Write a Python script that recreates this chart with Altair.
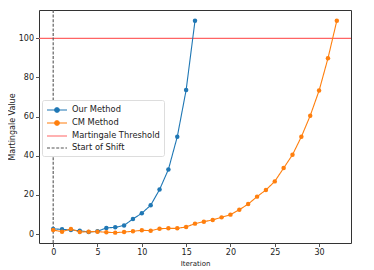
import altair as alt
import pandas as pd

our_values = [2.6, 2.4, 2.0, 1.7, 1.0, 1.4, 3.1, 3.4, 4.4, 7.7, 10.6, 14.7, 22.7, 33.0, 49.7, 73.6, 109.0]
cm_values = [2.0, 1.2, 2.6, 1.0, 1.2, 1.2, 0.9, 0.7, 1.0, 1.4, 1.9, 1.7, 2.7, 2.9, 2.9, 3.6, 5.3,
             6.3, 7.2, 8.5, 9.9, 12.4, 15.3, 19.1, 22.5, 26.9, 33.7, 40.5, 49.7, 60.5, 73.3, 89.8, 109.0]
threshold = 100
shift_start = 0
series_names = ["Our Method", "CM Method", "Martingale Threshold", "Start of Shift"]
colors = ["#1f77b4", "#ff7f0e", "#ff6464", "#555555"]

rows = []
for i, v in enumerate(our_values):
    rows.append({"Iteration": i, "Value": v, "series": series_names[0]})
for i, v in enumerate(cm_values):
    rows.append({"Iteration": i, "Value": v, "series": series_names[1]})
df = pd.DataFrame(rows)
df_thr = pd.DataFrame({"Value": [threshold], "series": [series_names[2]]})
df_shift = pd.DataFrame({"Iteration": [shift_start], "series": [series_names[3]]})

circ = "M-2,0H2M0.46,0A0.46,0.46,0,1,1,-0.46,0A0.46,0.46,0,1,1,0.46,0Z"
line_path = "M-2,0H2"

color_scale = alt.Scale(domain=series_names, range=colors)
dash_scale = alt.Scale(domain=series_names, range=[[1, 0], [1, 0], [1, 0], [3, 1.6]])
shape_scale = alt.Scale(domain=series_names, range=[circ, circ, line_path, line_path])

legend = alt.Legend(title=None, orient="none", legendX=3, legendY=90, fillColor="white",
                    strokeColor="#dddddd", padding=4, cornerRadius=2, labelFontSize=8.3,
                    labelFont="DejaVu Sans", symbolSize=100, rowPadding=2, symbolStrokeWidth=1.1,
                    symbolOffset=5, labelOffset=9, labelColor="#222222")

x_enc = alt.X("Iteration:Q", scale=alt.Scale(domain=[-1.6, 33.6], nice=False, zero=False),
              axis=alt.Axis(values=[0, 5, 10, 15, 20, 25, 30], title="Iteration", grid=False,
                            format="d"))
y_enc = alt.Y("Value:Q", scale=alt.Scale(domain=[-4.6, 114.5], nice=False, zero=False),
              axis=alt.Axis(values=[0, 20, 40, 60, 80, 100], title="Martingale Value", grid=False,
                            titlePadding=2))
col = alt.Color("series:N", scale=color_scale, legend=legend)
dash = alt.StrokeDash("series:N", scale=dash_scale, legend=legend)

lines = alt.Chart(df).mark_line(strokeWidth=1.1).encode(x=x_enc, y=y_enc, color=col, strokeDash=dash, detail="series:N")
points = alt.Chart(df).mark_point(filled=True, size=20, opacity=1).encode(x=x_enc, y=y_enc, color=col)
legend_layer = alt.Chart(df).transform_filter("false").mark_point(filled=True).encode(
    x=x_enc, y=y_enc, color=col, shape=alt.Shape("series:N", scale=shape_scale, legend=legend),
    strokeDash=dash)
thr = alt.Chart(df_thr).mark_rule(strokeWidth=1.1).encode(y="Value:Q", color=col, strokeDash=dash)
shift = alt.Chart(df_shift).mark_rule(strokeWidth=1.1).encode(x="Iteration:Q", color=col, strokeDash=dash)

chart = alt.layer(thr, shift, lines, points, legend_layer).properties(
    width=312, height=233, padding={"left": 0, "top": 1, "right": 5, "bottom": 0}
).configure_view(stroke="#333333", strokeWidth=1).configure_axis(
    labelFontSize=8, titleFontSize=8, labelFont="DejaVu Sans", titleFont="DejaVu Sans",
    titleFontWeight="normal", labelColor="#222222", titleColor="#222222",
    tickColor="#555555", domain=False, tickSize=3.5, labelPadding=2
).configure_axisX(titleFontSize=7, titlePadding=3)

chart.save("out.html", embed_options={"renderer": "svg", "actions": False})
